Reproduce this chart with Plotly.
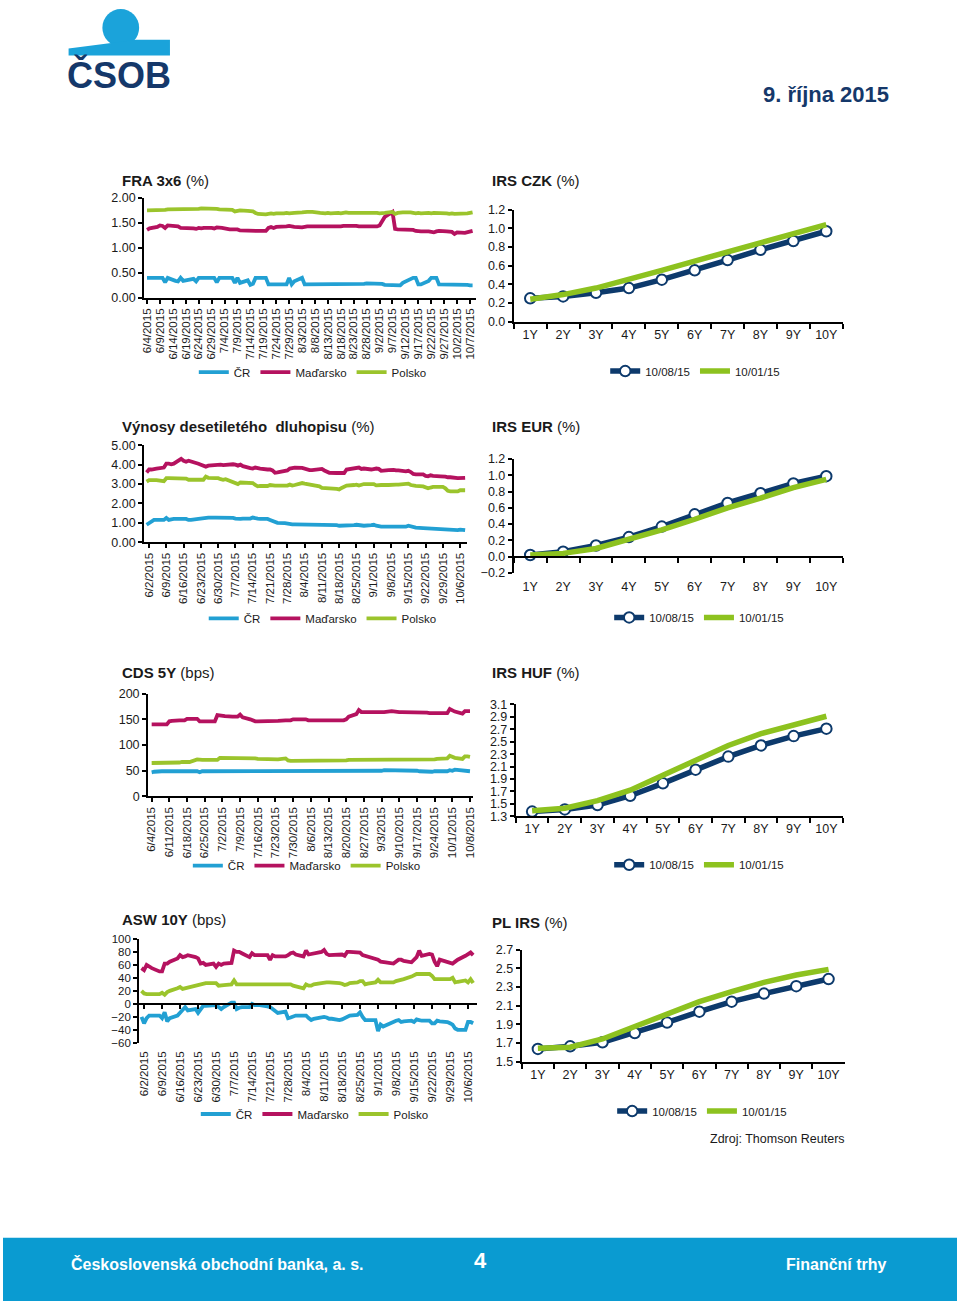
import plotly.graph_objects as go
import pandas as pd

W, H = 960, 1308
def fx(p): return p / W
def fy(p): return 1 - p / H

FONT = "Liberation Sans, Arial, sans-serif"
C_CR, C_HU, C_PL = "#22A0D3", "#B5125F", "#9BC42C"
C_NAVY, C_GREEN = "#0D3A6C", "#8DC21F"
NAVY_TXT = "#15386A"

series_names = ["ČR", "Maďarsko", "Polsko"]
curve_names = ["10/08/15", "10/01/15"]
tenors = ["1Y", "2Y", "3Y", "4Y", "5Y", "6Y", "7Y", "8Y", "9Y", "10Y"]

# ---------------- FRA 3x6 (%) : business days from 2015-06-04 ----------------
fra_start = "2015-06-04"
fra_cr = [0.40, 0.40,
          0.40, 0.40, 0.40, 0.31, 0.40,
          0.34, 0.33, 0.40, 0.34, 0.35,
          0.38, 0.33, 0.40, 0.40, 0.40,
          0.40, 0.40, 0.31, 0.40, 0.40,
          0.40, 0.40, 0.30, 0.40, 0.30,
          0.35, 0.26, 0.28, 0.40, 0.40,
          0.40, 0.27, 0.27, 0.27, 0.27,
          0.27, 0.27, 0.40, 0.27, 0.33,
          0.40, 0.27, 0.27, 0.27, 0.27,
          0.27, 0.27, 0.27, 0.27, 0.27,
          0.27, 0.27, 0.27, 0.27, 0.27,
          0.27, 0.27, 0.27, 0.28, 0.29,
          0.29, 0.29, 0.29, 0.28, 0.26,
          0.25, 0.25, 0.25, 0.25, 0.30,
          0.38, 0.40, 0.40, 0.27, 0.27,
          0.34, 0.40, 0.40, 0.40, 0.27,
          0.27, 0.27, 0.27, 0.27, 0.27,
          0.27, 0.26, 0.25, 0.25]
fra_hu = [1.36, 1.39,
          1.42, 1.45, 1.44, 1.40, 1.45,
          1.44, 1.43, 1.40, 1.40, 1.40,
          1.39, 1.38, 1.40, 1.39, 1.40,
          1.40, 1.39, 1.41, 1.41, 1.40,
          1.37, 1.37, 1.37, 1.37, 1.35,
          1.34, 1.34, 1.34, 1.34, 1.34,
          1.34, 1.40, 1.42, 1.40, 1.42,
          1.42, 1.43, 1.44, 1.43, 1.42,
          1.41, 1.43, 1.43, 1.43, 1.43,
          1.43, 1.43, 1.42, 1.43, 1.43,
          1.43, 1.43, 1.44, 1.44, 1.45,
          1.44, 1.43, 1.43, 1.44, 1.44,
          1.44, 1.43, 1.45, 1.52, 1.62,
          1.72, 1.38, 1.37, 1.37, 1.37,
          1.37, 1.36, 1.34, 1.33, 1.33,
          1.33, 1.31, 1.31, 1.33, 1.34,
          1.33, 1.33, 1.32, 1.28, 1.31,
          1.30, 1.31, 1.32, 1.34]
fra_pl = [1.75, 1.75,
          1.75, 1.75, 1.75, 1.76, 1.77,
          1.77, 1.78, 1.77, 1.78, 1.77,
          1.77, 1.78, 1.78, 1.79, 1.79,
          1.79, 1.78, 1.78, 1.77, 1.77,
          1.77, 1.76, 1.73, 1.75, 1.75,
          1.74, 1.74, 1.73, 1.70, 1.68,
          1.67, 1.68, 1.69, 1.68, 1.69,
          1.69, 1.70, 1.69, 1.70, 1.70,
          1.71, 1.72, 1.72, 1.72, 1.72,
          1.70, 1.69, 1.69, 1.70, 1.69,
          1.70, 1.69, 1.70, 1.71, 1.70,
          1.70, 1.71, 1.70, 1.70, 1.70,
          1.70, 1.70, 1.69, 1.70, 1.70,
          1.72, 1.68, 1.70, 1.71, 1.71,
          1.71, 1.70, 1.69, 1.70, 1.69,
          1.70, 1.69, 1.70, 1.70, 1.69,
          1.69, 1.68, 1.69, 1.68, 1.68,
          1.68, 1.69, 1.70, 1.71]

# ---------------- 10Y bond yields (%) : business days from 2015-06-01 ----------------
bond_start = "2015-06-01"
bond_cr = [0.90, 1.00, 1.10, 1.15, 1.15,
           1.15, 1.25, 1.15, 1.18, 1.20,
           1.20, 1.22, 1.20, 1.15, 1.15,
           1.20, 1.22, 1.25, 1.27, 1.27,
           1.27, 1.27, 1.27, 1.27, 1.27,
           1.25, 1.22, 1.20, 1.20, 1.22,
           1.22, 1.27, 1.22, 1.22, 1.20,
           1.20, 1.15, 1.10, 1.02, 1.00,
           0.98, 0.95, 0.92, 0.92, 0.92,
           0.92, 0.92, 0.92, 0.92, 0.92,
           0.92, 0.92, 0.90, 0.90, 0.88,
           0.88, 0.85, 0.85, 0.85, 0.85,
           0.88, 0.90, 0.88, 0.86, 0.85,
           0.88, 0.90, 0.85, 0.80, 0.80,
           0.80, 0.80, 0.80, 0.80, 0.80,
           0.80, 0.85, 0.82, 0.78, 0.75,
           0.73, 0.72, 0.72, 0.72, 0.70,
           0.68, 0.66, 0.65, 0.62, 0.62,
           0.62, 0.65, 0.62, 0.62]
bond_hu = [3.60, 3.75, 3.75, 3.80, 3.80,
           3.85, 4.05, 4.05, 4.02, 4.05,
           4.30, 4.20, 4.15, 4.20, 4.17,
           4.05, 4.00, 3.95, 3.90, 3.95,
           4.00, 3.97, 4.00, 3.98, 4.00,
           4.02, 4.00, 3.95, 4.00, 3.92,
           3.82, 3.80, 3.85, 3.80, 3.80,
           3.75, 3.75, 3.70, 3.58, 3.60,
           3.65, 3.70, 3.80, 3.85, 3.85,
           3.83, 3.78, 3.72, 3.72, 3.72,
           3.75, 3.78, 3.70, 3.62, 3.58,
           3.57, 3.57, 3.58, 3.57, 3.75,
           3.80, 3.80, 3.85, 3.78, 3.80,
           3.75, 3.80, 3.80, 3.78, 3.68,
           3.72, 3.75, 3.73, 3.70, 3.70,
           3.65, 3.68, 3.62, 3.52, 3.50,
           3.50, 3.42, 3.40, 3.45, 3.42,
           3.40, 3.40, 3.38, 3.35, 3.35,
           3.30, 3.30, 3.28, 3.32]
bond_pl = [3.12, 3.20, 3.20, 3.20, 3.20,
           3.15, 3.30, 3.30, 3.30, 3.30,
           3.30, 3.30, 3.28, 3.22, 3.22,
           3.20, 3.20, 3.22, 3.38, 3.32,
           3.30, 3.30, 3.25, 3.22, 3.25,
           3.12, 3.05, 3.00, 3.08, 3.08,
           3.08, 3.05, 2.95, 2.88, 2.90,
           2.90, 2.95, 2.92, 2.92, 2.92,
           2.92, 2.92, 2.97, 2.92, 2.95,
           3.05, 3.02, 3.00, 2.98, 2.95,
           2.88, 2.80, 2.80, 2.80, 2.78,
           2.75, 2.72, 2.80, 2.88, 2.92,
           2.95, 2.97, 2.92, 2.97, 3.00,
           3.00, 3.00, 2.93, 2.95, 2.95,
           2.95, 2.97, 2.97, 2.97, 2.97,
           3.00, 3.02, 2.95, 2.92, 2.90,
           2.88, 2.82, 2.78, 2.82, 2.85,
           2.85, 2.85, 2.78, 2.65, 2.62,
           2.62, 2.68, 2.68, 2.68]

# ---------------- CDS 5Y (bps) : business days from 2015-06-04 ----------------
cds_start = "2015-06-04"
cds_cr = [47, 48,
          49, 49, 49, 49, 49,
          49, 49, 49, 49, 49,
          49, 47, 49, 49, 49,
          49, 49, 49, 49, 49,
          49, 49, 49, 49, 49,
          49, 49, 49, 49, 49,
          49, 49, 49, 49, 49,
          49, 49, 49, 49, 49,
          49, 49, 49, 49, 49,
          49, 49, 49, 49, 49,
          49, 49, 49, 49, 49,
          49, 49, 49, 49, 49,
          49, 49, 49, 50, 51,
          51, 51, 51, 51, 51,
          51, 51, 51, 50, 49,
          48, 48, 48, 49, 49,
          49, 49, 51, 50, 52,
          50, 49, 49, 49]
cds_hu = [140, 140,
          140, 140, 140, 146, 147,
          148, 148, 148, 151, 151,
          151, 146, 146, 146, 146,
          146, 158, 157, 157, 156,
          155, 155, 155, 159, 154,
          150, 148, 146, 146, 146,
          146, 146, 146, 146, 147,
          148, 148, 148, 150, 150,
          150, 150, 148, 148, 148,
          148, 148, 148, 148, 148,
          148, 148, 148, 150, 155,
          160, 168, 164, 164, 164,
          164, 164, 164, 164, 164,
          166, 165, 164, 164, 164,
          164, 164, 164, 164, 164,
          163, 162, 162, 162, 162,
          162, 162, 170, 168, 165,
          161, 166, 166, 166]
cds_pl = [65, 65,
          65, 65, 65, 66, 66,
          66, 67, 67, 67, 67,
          72, 71, 71, 71, 71,
          71, 71, 75, 75, 75,
          75, 75, 75, 75, 75,
          75, 75, 74, 73, 73,
          73, 73, 72, 72, 72,
          74, 70, 69, 69, 69,
          69, 69, 69, 69, 69,
          69, 69, 69, 69, 69,
          69, 69, 69, 70, 71,
          71, 71, 71, 72, 72,
          72, 72, 72, 72, 72,
          72, 72, 72, 72, 72,
          72, 72, 72, 72, 72,
          72, 72, 72, 72, 73,
          73, 74, 79, 76, 75,
          73, 78, 78, 77]

# ---------------- ASW 10Y (bps) : business days from 2015-06-01 ----------------
asw_start = "2015-06-01"
asw_cr = [-20, -30, -22, -18, -18,
          -18, -22, -13, -27, -22,
          -18, -14, -8, -5, -10,
          -8, -14, -8, -3, -3,
          -2, -2, -5, -8, -5,
          2, 2, -8, -6, -5,
          -5, 0, -2, -2, -2,
          -4, -5, -8, -12, -14,
          -12, -22, -21, -20, -18,
          -18, -18, -22, -25, -23,
          -20, -20, -21, -23, -23,
          -25, -24, -22, -20, -18,
          -17, -13, -20, -25, -25,
          -25, -42, -32, -35, -33,
          -28, -26, -25, -28, -27,
          -26, -28, -24, -25, -26,
          -26, -30, -30, -26, -27,
          -28, -30, -32, -38, -40,
          -40, -28, -28, -30]
asw_hu = [55, 52, 60, 57, 55,
          50, 50, 62, 62, 65,
          70, 75, 72, 73, 75,
          72, 70, 62, 63, 60,
          62, 57, 62, 60, 62,
          63, 82, 80, 80, 78,
          72, 78, 75, 75, 75,
          75, 68, 75, 73, 73,
          73, 75, 78, 79, 76,
          73, 82, 76, 77, 77,
          80, 83, 77, 75, 75,
          76, 76, 74, 80, 80,
          80, 79, 75, 74, 73,
          70, 68, 65, 65, 64,
          62, 65, 68, 68, 66,
          64, 68, 72, 82, 74,
          77, 76, 65, 58, 68,
          65, 63, 62, 65, 68,
          74, 76, 79, 75]
asw_pl = [20, 16, 15, 15, 15,
          15, 17, 14, 18, 20,
          24, 26, 23, 24, 25,
          28, 29, 30, 32, 32,
          32, 32, 28, 29, 29,
          30, 36, 30, 30, 30,
          30, 30, 30, 30, 30,
          30, 30, 30, 30, 30,
          30, 30, 30, 28, 27,
          24, 30, 28, 28, 30,
          32, 33, 33, 33, 33,
          32, 31, 29, 30, 32,
          33, 35, 35, 30, 31,
          33, 37, 33, 33, 33,
          33, 35, 36, 36, 38,
          42, 44, 46, 46, 46,
          46, 43, 38, 38, 38,
          38, 38, 40, 33, 34,
          36, 33, 38, 32]

# ---------------- IRS curves (%) ----------------
irs_czk_now = [0.25, 0.27, 0.31, 0.36, 0.45, 0.55, 0.66, 0.77, 0.865, 0.97]
irs_czk_prev = [0.24, 0.29, 0.36, 0.45, 0.55, 0.65, 0.75, 0.85, 0.95, 1.04]
irs_eur_now = [0.02, 0.06, 0.137, 0.24, 0.37, 0.52, 0.66, 0.78, 0.90, 0.99]
irs_eur_prev = [0.02, 0.04, 0.10, 0.21, 0.33, 0.46, 0.60, 0.72, 0.85, 0.95]
irs_huf_now = [1.375, 1.41, 1.48, 1.63, 1.83, 2.05, 2.26, 2.44, 2.59, 2.71]
irs_huf_prev = [1.39, 1.43, 1.55, 1.72, 1.96, 2.21, 2.44, 2.63, 2.77, 2.91]
irs_pl_now = [1.636, 1.664, 1.707, 1.807, 1.92, 2.036, 2.143, 2.23, 2.31, 2.386]
irs_pl_prev = [1.643, 1.654, 1.743, 1.879, 2.01, 2.143, 2.25, 2.35, 2.43, 2.49]

# ======================================================================
fig = go.Figure()
layout = dict(
    autosize=True, margin=dict(l=0, r=0, t=0, b=0, pad=0),
    paper_bgcolor="white", plot_bgcolor="white",
    font=dict(family=FONT, color="#1a1a1a"),
    showlegend=True, annotations=[], shapes=[],
)

def key(kind, i):
    return kind if i == 1 else f"{kind}{i}"

def ref(kind, i):
    return kind if i == 1 else f"{kind}{i}"

AX = dict(showline=True, linecolor="black", linewidth=2, ticks="outside",
          ticklen=4, tickwidth=1.5, tickcolor="black", showgrid=False,
          zeroline=False, fixedrange=True, tickfont=dict(size=12.5, color="#1a1a1a"))

LEG = dict(orientation="h", xanchor="left", yanchor="middle",
           bgcolor="rgba(0,0,0,0)", itemwidth=30,
           font=dict(size=11.5, color="#1a1a1a"),
           itemclick=False, itemdoubleclick=False)

def add_ts(i, start, data, box, yrange, ydtick, yfmt, xrange, tick0, xdtick_days,
           leg_x, leg_y, ytick_size=12.5, zero_axis=False, standoff=0):
    x0, x1, ytop, ybot = box
    colors = [C_CR, C_HU, C_PL]
    for name, vals, col in zip(series_names, data, colors):
        dates = pd.bdate_range(start, periods=len(vals))
        fig.add_trace(go.Scatter(x=dates, y=vals, mode="lines", name=name,
                                 line=dict(color=col, width=3.8),
                                 xaxis=ref("x", i), yaxis=ref("y", i),
                                 legend=key("legend", i), hoverinfo="skip"))
    ydom = [fy(ybot), fy(ytop)]
    xa = dict(AX, type="date", domain=[fx(x0), fx(x1)], range=xrange,
              tick0=tick0, dtick=86400000 * xdtick_days, tickformat="%-m/%-d/%Y",
              tickangle=-90, tickfont=dict(size=11.5, color="#1a1a1a"))
    if zero_axis:
        pos = ydom[0] + (0 - yrange[0]) / (yrange[1] - yrange[0]) * (ydom[1] - ydom[0])
        xa.update(anchor="free", position=pos, ticklabelstandoff=standoff)
    else:
        xa.update(anchor=ref("y", i))
    layout[key("xaxis", i)] = xa
    layout[key("yaxis", i)] = dict(AX, domain=ydom, range=yrange, dtick=ydtick,
                                   tickformat=yfmt, anchor=ref("x", i),
                                   tickfont=dict(size=ytick_size, color="#1a1a1a"))
    layout[key("legend", i)] = dict(LEG, x=fx(leg_x), y=fy(leg_y))

def add_irs(i, data, box, yrange, leg_x, leg_y, zero_axis=False, standoff=0):
    x0, x1, ytop, ybot = box
    now, prev = data
    fig.add_trace(go.Scatter(x=tenors, y=now, mode="lines+markers", name=curve_names[0],
                             line=dict(color=C_NAVY, width=5.5),
                             marker=dict(size=10.5, color="white",
                                         line=dict(color=C_NAVY, width=2)),
                             xaxis=ref("x", i), yaxis=ref("y", i),
                             legend=key("legend", i), hoverinfo="skip"))
    fig.add_trace(go.Scatter(x=tenors, y=prev, mode="lines", name=curve_names[1],
                             line=dict(color=C_GREEN, width=5.5),
                             xaxis=ref("x", i), yaxis=ref("y", i),
                             legend=key("legend", i), hoverinfo="skip"))
    ydom = [fy(ybot), fy(ytop)]
    xa = dict(AX, type="category", categoryorder="array", categoryarray=tenors,
              domain=[fx(x0), fx(x1)], range=[-0.5, 9.5], tickson="boundaries",
              ticklen=5)
    if zero_axis:
        pos = ydom[0] + (0 - yrange[0]) / (yrange[1] - yrange[0]) * (ydom[1] - ydom[0])
        xa.update(anchor="free", position=pos, ticklabelstandoff=standoff)
    else:
        xa.update(anchor=ref("y", i))
    layout[key("xaxis", i)] = xa
    layout[key("yaxis", i)] = dict(AX, domain=ydom, range=yrange, dtick=0.2,
                                   tick0=yrange[0], tickformat=".1f", anchor=ref("x", i))
    layout[key("legend", i)] = dict(LEG, x=fx(leg_x), y=fy(leg_y))

# Panels
add_ts(1, fra_start, [fra_cr, fra_hu, fra_pl], (142, 476, 193, 294), [0, 2], 0.5, ".2f",
       ["2015-06-02 21:00", "2015-10-09 08:00"], "2015-06-04", 5, 192, 369)
add_irs(2, [irs_czk_now, irs_czk_prev], (514, 845, 205, 318), [0, 1.2], 606, 368)
add_ts(3, bond_start, [bond_cr, bond_hu, bond_pl], (142, 467, 443, 541), [0, 5], 1, ".2f",
       ["2015-05-31", "2015-10-08 19:00"], "2015-06-02", 7, 202, 618)
add_irs(4, [irs_eur_now, irs_eur_prev], (514, 845, 457, 572), [-0.2, 1.2], 610, 617,
        zero_axis=True, standoff=18)
add_ts(5, cds_start, [cds_cr, cds_hu, cds_pl], (146, 473, 694, 798), [0, 200], 50, "d",
       ["2015-06-02 14:00", "2015-10-09 05:00"], "2015-06-04", 7, 186, 868)
add_irs(6, [irs_huf_now, irs_huf_prev], (516, 845, 705, 818), [1.3, 3.1], 610, 867)
add_ts(7, asw_start, [asw_cr, asw_hu, asw_pl], (137, 477, 942, 1047), [-60, 100], 20, "d",
       ["2015-05-31 02:00", "2015-10-09 12:00"], "2015-06-02", 7, 194, 1119,
       ytick_size=11.5, zero_axis=True, standoff=38)
add_irs(8, [irs_pl_now, irs_pl_prev], (522, 847, 953, 1066), [1.5, 2.7], 613, 1116)

# Titles
titles = [("<b>FRA 3x6</b> (%)", 118, 175), ("<b>IRS CZK</b> (%)", 490, 175),
          ("<b>Výnosy desetiletého  dluhopisu</b> (%)", 118, 424), ("<b>IRS EUR</b> (%)", 490, 424),
          ("<b>CDS 5Y</b> (bps)", 118, 673), ("<b>IRS HUF</b> (%)", 490, 673),
          ("<b>ASW 10Y</b> (bps)", 118, 922), ("<b>PL IRS</b> (%)", 490, 925)]
for txt, px, py in titles:
    layout["annotations"].append(dict(text=txt, x=fx(px), y=fy(py), xref="paper", yref="paper",
                                      xanchor="left", yanchor="middle", showarrow=False,
                                      font=dict(size=15, color="#1a1a1a", family=FONT)))

layout["annotations"].append(dict(text="Zdroj: Thomson Reuters", x=fx(849), y=fy(1144),
                                  xref="paper", yref="paper", xanchor="right", yanchor="middle",
                                  showarrow=False, font=dict(size=12.5, color="#1a1a1a")))

# Header: logo + date
LOGO_BLUE = "#1BA3DA"
layout["shapes"].append(dict(type="circle", xref="paper", yref="paper",
                             x0=fx(100), x1=fx(137), y0=fy(40), y1=fy(2),
                             fillcolor=LOGO_BLUE, line=dict(width=0)))
bar_pts = [(66, 42), (105, 37), (134, 33), (168, 33), (168, 49), (66, 49)]
path = "M " + " L ".join(f"{fx(a):.5f},{fy(b):.5f}" for a, b in bar_pts) + " Z"
layout["shapes"].append(dict(type="path", xref="paper", yref="paper", path=path,
                             fillcolor=LOGO_BLUE, line=dict(width=0)))
layout["annotations"].append(dict(text="<b>ČSOB</b>", x=fx(62), y=fy(69), xref="paper", yref="paper",
                                  xanchor="left", yanchor="middle", showarrow=False,
                                  font=dict(size=36, color=NAVY_TXT, family=FONT)))
layout["annotations"].append(dict(text="<b>9. října 2015</b>", x=fx(894), y=fy(88),
                                  xref="paper", yref="paper", xanchor="right", yanchor="middle",
                                  showarrow=False, font=dict(size=22, color=NAVY_TXT, family=FONT)))

# Footer
layout["shapes"].append(dict(type="rect", xref="paper", yref="paper", x0=0, x1=1,
                             y0=0, y1=fy(1244), fillcolor="#0A9BD1", line=dict(width=0),
                             layer="below"))
for txt, px, anchor, size, py in [("<b>Československá obchodní banka, a. s.</b>", 66, "left", 16, 1271),
                                  ("<b>4</b>", 480, "center", 22, 1267),
                                  ("<b>Finanční trhy</b>", 892, "right", 16, 1271)]:
    layout["annotations"].append(dict(text=txt, x=fx(px), y=fy(py),
                                      xref="paper", yref="paper", xanchor=anchor,
                                      yanchor="middle", showarrow=False,
                                      font=dict(size=size, color="white", family=FONT)))

fig.update_layout(**layout)

POST = ("document.documentElement.style.margin='0';"
        "document.documentElement.style.overflow='hidden';"
        "document.body.style.margin='0';document.body.style.padding='0';"
        "document.body.style.overflow='hidden';"
        "var gd=document.getElementById('{plot_id}');"
        "gd.style.position='fixed';gd.style.left='0px';gd.style.top='0px';"
        "gd.style.width='100vw';gd.style.height='100vh';"
        "Plotly.Plots.resize(gd);")
fig.write_html("out.html", default_width="100vw", default_height="100vh",
               config={"displayModeBar": False, "responsive": True}, post_script=POST)
